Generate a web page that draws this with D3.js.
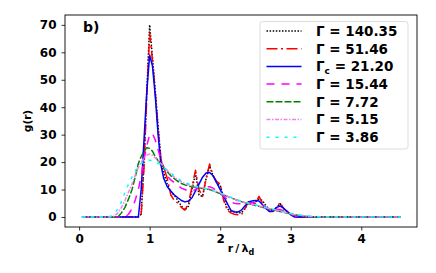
<!DOCTYPE html>
<html>
<head>
<meta charset="utf-8">
<script src="https://cdn.jsdelivr.net/npm/d3@7"></script>
<style>
  body { margin: 0; background: #fff; }
  svg text { font-family: "DejaVu Sans", sans-serif; font-weight: bold; }
</style>
</head>
<body>
<svg id="chart" width="436" height="273"></svg>
<script>
'use strict';

// shared radial grid (r / lambda_d)
const rValues = [0.04, 0.3, 0.44, 0.5, 0.55, 0.6, 0.65, 0.7, 0.75, 0.8,
  0.84, 0.88, 0.92, 0.96, 1.0, 1.04, 1.08, 1.12, 1.16, 1.2,
  1.25, 1.3, 1.35, 1.4, 1.45, 1.5, 1.55, 1.6, 1.65, 1.7,
  1.75, 1.8, 1.85, 1.9, 1.95, 2.0, 2.05, 2.1, 2.15, 2.2,
  2.25, 2.3, 2.35, 2.4, 2.45, 2.5, 2.55, 2.6, 2.65, 2.7,
  2.75, 2.8, 2.85, 2.9, 2.95, 3.0, 3.05, 3.1, 3.2, 3.3,
  3.4, 3.5, 4.56];

// g(r) for each coupling parameter
const g140 = [0,0,0,0,0,0,0,0,0,0,0, 1,20,46,70,58,46,33,21,16,
  12,9,8,6,4,2.5,4,10,16,8, 7.5,14,18.5,15,12.5,11.5,7,3,2,2,
  1.5,1.5,3,5,5,5.5,6.5,6,4,2.5, 2,3.5,4.8,3,2,1,0.2,0,0,0, 0,0,0];
const g51 = [0,0,0,0,0,0,0,0,0,0,0, 1,18,44,67,57,45,32,21,18,
  14,8,6,5,3.5,2.5,5,11,17,10, 7.5,14,19.3,15,13,12,6,2.5,1.5,1,
  0.8,0.8,3,5.5,5,5,7.5,5,3,2, 2,3.5,5.3,3,2,1,0.2,0,0,0, 0,0,0];
const g21 = [0,0,0,0,0,0,0,0,0,0,0, 10,28,46,59,55,44,30,19,14,
  11,9.5,8,7,6,5.5,5.8,7,9.5,12, 14.5,16,16.2,15,12.5,10,7.5,5,2.5,1.8,
  1.8,2.5,4,5.5,5.8,6,5.8,4.5,3,2, 2.2,3.5,4,3.2,2,0.8,0,0,0,0, 0,0,0];
const g15 = [0,0,0,0,0,0,0, 1,3,6.5,10,15,21,26,30,30.5,28,24.5,21,18,
  15,13.5,12.5,11.5,10.5,10,9.5,9.5,10,10.5, 11,11,11,10.5,9.5,8.5,7.5,6.5,5.5,5,
  4.8,4.8,5,5.2,5.2,5,4.8,4.2,3.5,3, 2.8,2.8,2.7,2.2,1.6,1,0.5,0.3,0.1,0, 0,0,0];
const g7 = [0,0,0,0,0, 1.5,3.5,6.5,10,15,19.5,22,24,25.2,25,24,22,20.5,19.5,18,
  16.5,15,14,13,12.2,11.7,11.3,11,10.8,10.6, 10.4,10.2,10,9.5,9,8.5,8,7.5,7,6.5,
  6,5.6,5.2,4.8,4.5,4.2,3.9,3.5,3.2,2.9, 2.6,2.3,2,1.7,1.4,1.1,0.8,0.6,0.3,0.1, 0,0,0];
const g5 = [0,0,0, 0.3,1.5,3.5,6,9,12,15.5,18,20,21.5,22.5,23,22.5,21.5,20.5,19.5,18.5,
  17,15.5,14.5,13.5,12.8,12.2,11.8,11.4,11,10.8, 10.6,10.4,10.2,9.8,9.3,8.8,8.2,7.6,7,6.5,
  6,5.6,5.2,4.9,4.6,4.3,4,3.6,3.3,3, 2.7,2.4,2.1,1.8,1.5,1.2,0.9,0.7,0.4,0.15, 0.05,0,0];
const g3 = [0,0, 0.2,1,3,5.5,9,12,14.5,17,18.5,19.5,20.2,20.5,20.7,20.5,20,19.5,18.8,18,
  17,16,15,14,13.2,12.6,12.1,11.6,11.2,10.9, 10.6,10.3,10,9.6,9.2,8.7,8.2,7.7,7.2,6.7,
  6.2,5.8,5.4,5,4.7,4.4,4,3.7,3.4,3.1, 2.8,2.5,2.2,1.9,1.6,1.3,1,0.8,0.5,0.25, 0.1,0,0];

const xTicks = [0, 1, 2, 3, 4];
const yTicks = [0, 10, 20, 30, 40, 50, 60, 70];

const series = [
  { label: ['Γ = 140.35'], values: g140, color: '#000000', dash: '1.5,1.6', width: 1.5 },
  { label: ['Γ = 51.46'], values: g51, color: '#ff0000', dash: '11,3.5,2,3.5', width: 1.5 },
  { label: ['Γ', 'c', ' = 21.20'], values: g21, color: '#0000ff', dash: null, width: 1.5 },
  { label: ['Γ = 15.44'], values: g15, color: '#ff00ff', dash: '8,7', width: 1.5 },
  { label: ['Γ = 7.72'], values: g7, color: '#008000', dash: '7,2', width: 1.5 },
  { label: ['Γ = 5.15'], values: g5, color: '#ee82ee', dash: '4,1.5,1.5,1.5', width: 1.5 },
  { label: ['Γ = 3.86'], values: g3, color: '#00ffff', dash: '3,6', width: 1.5 }
];

const svg = d3.select('#chart');
const margin = { top: 15, right: 19, bottom: 46, left: 65 };
const width = 436 - margin.left - margin.right;
const height = 273 - margin.top - margin.bottom;

const x = d3.scaleLinear().domain([-0.2, 4.79]).range([0, width]);
const y = d3.scaleLinear().domain([-3.65, 73.6]).range([height, 0]);

const plot = svg.append('g')
  .attr('transform', `translate(${margin.left},${margin.top})`);

// clip region for the curves
svg.append('clipPath').attr('id', 'clip')
  .append('rect').attr('width', width).attr('height', height);

// curves
const line = d3.line()
  .x((d, i) => x(rValues[i]))
  .y(d => y(d));

plot.append('g').attr('clip-path', 'url(#clip)')
  .selectAll('path')
  .data(series)
  .enter().append('path')
  .attr('d', d => line(d.values))
  .attr('fill', 'none')
  .attr('stroke', d => d.color)
  .attr('stroke-width', d => d.width)
  .attr('stroke-dasharray', d => d.dash)
  .attr('stroke-linejoin', 'round');

// axes
const xAxis = plot.append('g')
  .attr('transform', `translate(0,${height})`)
  .call(d3.axisBottom(x).tickValues(xTicks).tickFormat(d3.format('d')).tickSize(3.5).tickPadding(4));
const yAxis = plot.append('g')
  .call(d3.axisLeft(y).tickValues(yTicks).tickFormat(d3.format('d')).tickSize(3.5).tickPadding(5));

[xAxis, yAxis].forEach(a => {
  a.select('.domain').remove();
  a.selectAll('text').attr('font-size', 12).attr('font-weight', 'bold').attr('fill', '#000')
    .attr('font-family', '"DejaVu Sans", sans-serif');
  a.selectAll('line').attr('stroke', '#000').attr('stroke-width', 0.8);
});

// frame
plot.append('rect')
  .attr('width', width).attr('height', height)
  .attr('fill', 'none').attr('stroke', '#000').attr('stroke-width', 0.9);

// panel tag
plot.append('text')
  .attr('x', 18).attr('y', 17)
  .attr('font-size', 14)
  .text('b)');

// axis labels
const xl = svg.append('text')
  .attr('x', margin.left + width / 2).attr('y', 252)
  .attr('text-anchor', 'middle')
  .attr('font-size', 11);
xl.append('tspan').text('r\u2009/\u2009λ');
xl.append('tspan').attr('font-size', 8).attr('dy', 2.5).text('d');

svg.append('text')
  .attr('transform', `translate(31,${margin.top + height / 2}) rotate(-90)`)
  .attr('text-anchor', 'middle')
  .attr('font-size', 10.5)
  .text('g(r)');

// legend
const legend = plot.append('g')
  .attr('transform', `translate(${width - 157},${6.5})`);

legend.append('rect')
  .attr('width', 148).attr('height', 127.5)
  .attr('rx', 2.5)
  .attr('fill', '#fff').attr('fill-opacity', 0.85)
  .attr('stroke', '#d8d8d8').attr('stroke-width', 0.9);

const rows = legend.selectAll('g.row')
  .data(series)
  .enter().append('g')
  .attr('class', 'row')
  .attr('transform', (d, i) => `translate(0,${9.5 + i * 17.7})`);

rows.append('line')
  .attr('x1', 6.5).attr('x2', 41.5)
  .attr('stroke', d => d.color)
  .attr('stroke-width', d => d.width)
  .attr('stroke-dasharray', d => d.dash);

rows.each(function (d) {
  const t = d3.select(this).append('text')
    .attr('x', 56).attr('y', 4.8)
    .attr('font-size', 13.5)
    .attr('fill', '#000');
  if (d.label.length === 1) {
    t.text(d.label[0]);
  } else {
    t.append('tspan').text(d.label[0]);
    t.append('tspan').attr('font-size', 9).attr('dy', 3).text(d.label[1]);
    t.append('tspan').attr('dy', -3).text(d.label[2]);
  }
});
</script>
</body>
</html>
